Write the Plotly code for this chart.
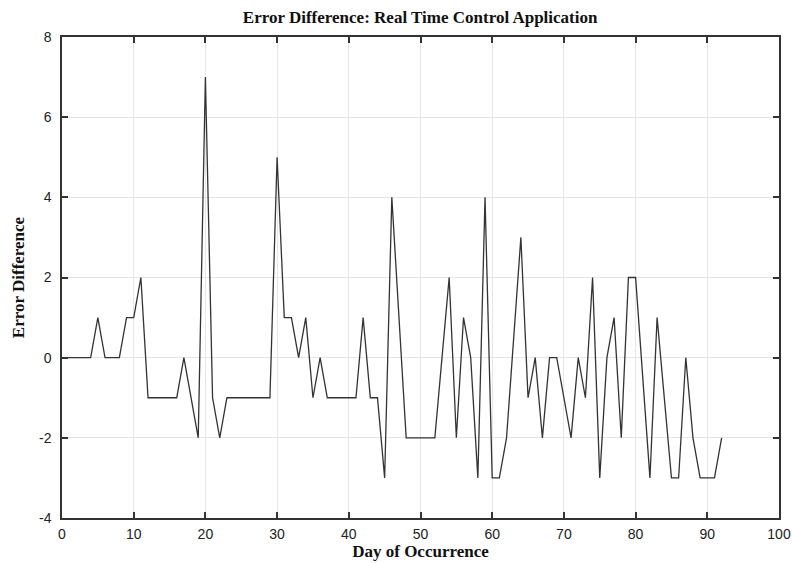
import plotly.graph_objects as go

days = list(range(0, 63)) + list(range(64, 81)) + list(range(82, 93))
error_diff = [
    0, 0, 0, 0, 0, 1, 0, 0, 0, 1,      # 0-9
    1, 2, -1, -1, -1, -1, -1, 0, -1, -2,  # 10-19
    7, -1, -2, -1, -1, -1, -1, -1, -1, -1,  # 20-29
    5, 1, 1, 0, 1, -1, 0, -1, -1, -1,   # 30-39
    -1, -1, 1, -1, -1, -3, 4, 1, -2, -2,  # 40-49
    -2, -2, -2, 0, 2, -2, 1, 0, -3, 4,   # 50-59
    -3, -3, -2,                          # 60-62
    3, -1, 0, -2, 0, 0, -1, -2, 0, -1,   # 64-73
    2, -3, 0, 1, -2, 2, 2,               # 74-80
    -3, 1, -1, -3, -3, 0, -2, -3, -3, -3, -2,  # 82-92
]

x_ticks = [0, 10, 20, 30, 40, 50, 60, 70, 80, 90, 100]
y_ticks = [-4, -2, 0, 2, 4, 6, 8]

fig = go.Figure()
fig.add_trace(go.Scatter(
    x=days, y=error_diff, mode="lines",
    line=dict(color="#333333", width=1.3),
    showlegend=False, hoverinfo="x+y",
))

axis_common = dict(
    showgrid=True, gridcolor="#e6e6e6", gridwidth=1,
    zeroline=False, automargin=False,
    showline=True, linecolor="#333333", linewidth=1.5,
    mirror="ticks", ticks="inside", ticklen=6, tickwidth=1.5, tickcolor="#333333",
    tickfont=dict(family="Liberation Sans, Arial, sans-serif", size=14, color="#222222"),
)
title_font = dict(family="Liberation Serif, Times New Roman, serif", size=17, color="#111111")

fig.update_layout(
    width=792, height=563,
    margin=dict(l=62, r=13, t=37, b=45, autoexpand=False),
    paper_bgcolor="white", plot_bgcolor="white",
    title=dict(
        text="<b>Error Difference: Real Time Control Application</b>",
        font=title_font,
        x=0.5305, xanchor="center", y=0.97, yanchor="middle",
    ),
    xaxis=dict(
        range=[0, 100], tickvals=x_ticks, ticktext=[str(v) for v in x_ticks],
        ticklabelstandoff=2,
        title=dict(text="<b>Day of Occurrence</b>", standoff=2, font=title_font),
        **axis_common,
    ),
    yaxis=dict(
        range=[-4, 8], tickvals=y_ticks, ticktext=[str(v) for v in y_ticks],
        ticklabelstandoff=6,
        title=dict(text="<b>Error Difference</b>", standoff=10, font=title_font),
        **axis_common,
    ),
)

fig.write_html(
    "out.html",
    config={"displayModeBar": False},
    post_script="document.body.style.margin='0';document.body.style.overflow='hidden';",
)
